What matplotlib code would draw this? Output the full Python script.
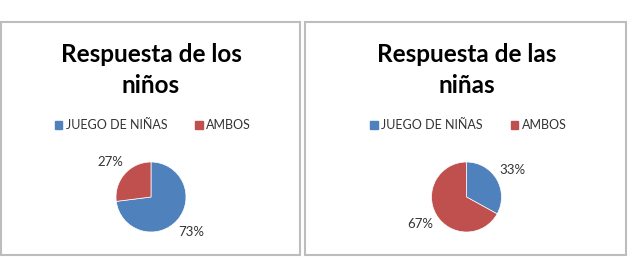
import matplotlib.pyplot as plt
from matplotlib.patches import Rectangle, Patch

# data
categories = ["JUEGO DE NIÑAS", "AMBOS"]
ninos = [73, 27]
ninas = [33, 67]
titles = ["Respuesta de los\nniños", "Respuesta de las\nniñas"]
colors = ["#4F81BD", "#C0504D"]

W, H = 630, 262
plt.rcParams['font.family'] = ['Lato', 'DejaVu Sans']

fig = plt.figure(figsize=(W / 100, H / 100), dpi=100)

# panel frames (pixels: x0, x1) and pie centers
panels = [(1, 300), (305, 626)]
centers = [(151, 197), (466.5, 197)]
radius = 35

for i, (vals, title) in enumerate(zip([ninos, ninas], titles)):
    x0, x1 = panels[i]
    fig.add_artist(Rectangle((x0 / W, 1 - 255 / H), (x1 - x0) / W, (255 - 22) / H,
                             transform=fig.transFigure, fill=False,
                             edgecolor="#BDBDBD", linewidth=1.5))
    cx, cy = centers[i]
    fig.text(cx / W, 1 - 70 / H, title, ha="center", va="center",
             fontsize=17.5, fontweight="bold", linespacing=1.4)

    ax = fig.add_axes([(cx - radius) / W, 1 - (cy + radius) / H,
                       2 * radius / W, 2 * radius / H])
    ax.pie(vals, colors=colors, startangle=90, counterclock=False,
           autopct="%d%%", pctdistance=1.53,
           wedgeprops=dict(edgecolor="white", linewidth=0.5),
           textprops=dict(fontsize=9.5, color="#333333"))
    ax.set_xlim(-1, 1)
    ax.set_ylim(-1, 1)
    ax.set_aspect("equal")

    handles = [Patch(color=c) for c in colors]
    fig.legend(handles, categories, loc="center", ncol=2,
               bbox_to_anchor=(cx / W + 0.003, 1 - 125 / H), frameon=False,
               fontsize=9, handlelength=0.6, handleheight=0.6,
               handletextpad=0.3, columnspacing=2.2, labelcolor="#333333")

fig.savefig("out.png", dpi=100)
